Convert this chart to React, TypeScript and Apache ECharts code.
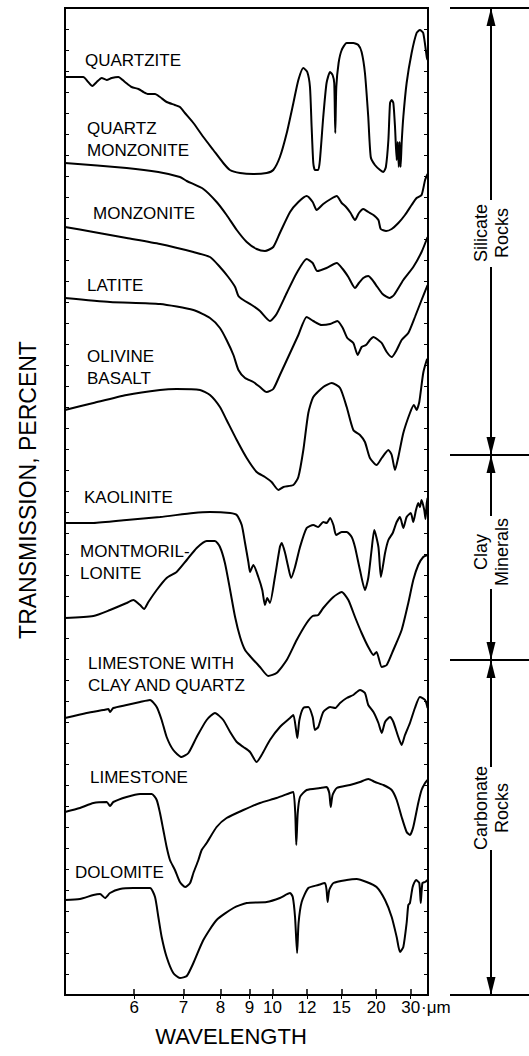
import React, { useEffect, useRef } from "react";
import * as echarts from "echarts";

// x values: wavenumber (cm^-1); y values: offset transmission (arbitrary stacked units)
const tickWavelengths = [6, 7, 8, 9, 10, 12, 15, 20, 30];

const quartzite: [number, number][] = [
  [2000,918],[1912,918],[1888,913],[1868,909],[1847,913],[1823,917],[1799,915],[1775,917],[1743,918],[1711,913],[1679,908],[1646,906],[1622,903],[1598,901],[1566,901],[1542,898],[1510,893],[1470,890],[1446,888],[1422,882],[1381,872],[1333,858],[1285,845],[1237,832],[1205,825],[1156,822],[1092,821],[1028,822],[996,825],[964,838],[931,862],[899,892],[875,915],[851,927],[832,923],[819,908],[811,868],[803,832],[795,825],[779,825],[771,835],[755,878],[739,912],[722,923],[710,920],[702,912],[697,862],[692,908],[681,932],[666,945],[642,952],[610,952],[586,950],[570,943],[554,922],[538,878],[526,838],[506,830],[481,825],[465,823],[453,828],[441,855],[433,892],[425,895],[417,892],[409,868],[401,835],[396,853],[391,828],[387,853],[382,828],[377,852],[369,878],[353,912],[329,942],[305,962],[289,965],[273,962],[256,938],[252,935]
];
const quartzMonzonite: [number, number][] = [
  [2000,832],[1703,827],[1550,823],[1446,818],[1413,814],[1333,806],[1269,793],[1221,780],[1172,765],[1124,753],[1076,746],[1036,744],[996,748],[964,762],[915,783],[875,793],[835,799],[806,793],[787,785],[755,791],[719,796],[690,799],[666,792],[645,788],[623,782],[602,775],[583,782],[562,786],[538,783],[513,780],[489,775],[478,766],[452,764],[425,766],[393,772],[361,780],[329,790],[305,797],[281,800],[264,815],[252,821]
];
const monzonite: [number, number][] = [
  [2000,768],[1863,763],[1703,757],[1542,751],[1381,743],[1301,738],[1253,728],[1213,718],[1180,708],[1164,699],[1140,695],[1100,690],[1060,684],[1012,674],[980,681],[931,702],[883,722],[835,736],[806,732],[784,724],[739,727],[690,732],[661,726],[634,718],[602,707],[583,712],[562,717],[538,719],[518,715],[494,708],[469,701],[436,697],[414,700],[369,715],[321,728],[281,743],[252,758]
];
const latite: [number, number][] = [
  [2000,697],[1783,693],[1542,691],[1381,685],[1301,677],[1253,667],[1221,655],[1188,640],[1164,625],[1132,617],[1092,613],[1060,608],[1028,603],[996,606],[964,620],[915,642],[875,660],[835,678],[803,674],[763,670],[722,671],[687,674],[661,667],[639,657],[610,652],[589,640],[570,648],[549,650],[530,655],[513,658],[490,655],[473,652],[449,643],[425,638],[401,645],[377,655],[345,662],[313,678],[281,695],[252,710]
];
const olivineBasalt: [number, number][] = [
  [2000,585],[1863,592],[1703,600],[1542,605],[1462,606],[1349,605],[1301,600],[1253,588],[1221,575],[1172,555],[1124,537],[1076,523],[1036,518],[1004,513],[971,505],[947,508],[899,510],[875,518],[851,545],[827,582],[803,598],[755,608],[714,612],[674,607],[642,588],[610,565],[578,560],[554,553],[530,537],[498,530],[473,537],[441,545],[425,540],[409,525],[393,538],[369,562],[337,582],[318,590],[305,585],[292,593],[273,622],[256,635],[252,636]
];
const kaolinite: [number, number][] = [
  [2000,472],[1863,472],[1703,475],[1542,478],[1381,482],[1301,483],[1204,482],[1172,480],[1148,470],[1132,452],[1116,433],[1108,423],[1092,430],[1068,418],[1049,405],[1036,390],[1025,397],[1012,392],[988,418],[964,448],[955,452],[939,442],[926,430],[910,417],[891,428],[867,448],[835,467],[803,470],[779,468],[755,473],[739,472],[722,477],[706,470],[693,460],[666,463],[642,463],[618,458],[602,448],[578,425],[554,405],[538,417],[522,445],[509,465],[489,448],[477,418],[457,442],[441,455],[420,462],[401,473],[385,478],[369,467],[353,478],[333,482],[321,473],[308,485],[297,492],[289,488],[281,495],[268,485],[262,476],[256,492],[252,497]
];
const montmorillonite: [number, number][] = [
  [2000,377],[1863,379],[1783,385],[1703,392],[1671,395],[1638,390],[1619,386],[1598,393],[1558,405],[1510,417],[1462,423],[1413,435],[1365,447],[1317,454],[1277,454],[1253,448],[1229,432],[1204,405],[1180,378],[1156,358],[1132,345],[1100,337],[1060,328],[1020,319],[980,322],[931,335],[883,355],[835,372],[806,379],[779,380],[755,387],[706,398],[666,403],[634,395],[602,378],[570,362],[538,348],[513,340],[498,343],[473,328],[449,330],[417,345],[377,365],[345,392],[321,415],[297,430],[273,438],[252,440]
];
const limestoneClayQuartz: [number, number][] = [
  [2000,277],[1896,282],[1815,285],[1791,286],[1783,283],[1767,287],[1703,290],[1638,293],[1590,295],[1558,288],[1534,275],[1510,258],[1478,245],[1438,238],[1405,242],[1365,258],[1317,275],[1277,282],[1237,275],[1204,263],[1172,253],[1140,248],[1108,243],[1076,233],[1052,240],[1012,255],[964,268],[915,277],[899,280],[886,265],[880,257],[870,275],[851,287],[827,288],[806,278],[795,265],[779,268],[755,283],[722,288],[698,287],[674,292],[642,297],[610,300],[578,305],[554,302],[538,290],[513,283],[489,272],[473,262],[457,273],[433,278],[417,273],[393,258],[377,250],[361,260],[337,272],[313,287],[289,298],[264,295],[252,287]
];
const limestone: [number, number][] = [
  [2000,183],[1928,187],[1863,192],[1799,193],[1783,189],[1767,193],[1703,198],[1638,201],[1582,201],[1558,195],[1542,182],[1526,165],[1510,148],[1494,135],[1470,125],[1446,113],[1421,108],[1397,112],[1381,122],[1357,135],[1341,145],[1317,152],[1269,168],[1221,177],[1140,185],[1060,192],[980,197],[915,202],[899,203],[890,182],[885,150],[878,182],[867,198],[835,205],[771,207],[739,208],[726,202],[719,188],[710,200],[690,207],[626,210],[578,213],[538,216],[505,213],[465,210],[425,205],[401,195],[377,178],[353,163],[337,160],[321,168],[297,192],[281,205],[264,212],[252,215]
];
const dolomite: [number, number][] = [
  [2000,95],[1928,96],[1863,100],[1831,101],[1807,97],[1783,102],[1735,106],[1671,107],[1590,107],[1566,98],[1550,78],[1534,58],[1510,38],[1478,22],[1446,17],[1413,19],[1381,32],[1333,55],[1269,75],[1188,87],[1124,92],[1028,93],[964,97],[915,102],[902,98],[891,78],[881,42],[874,72],[859,93],[827,107],[779,110],[747,112],[739,105],[734,93],[726,105],[706,112],[642,115],[594,116],[546,113],[498,108],[457,95],[425,78],[401,58],[385,43],[369,48],[353,72],[345,90],[337,92],[324,108],[308,115],[292,112],[285,92],[277,112],[264,113],[252,115]
];

const seriesNames = [
  "QUARTZITE", "QUARTZ MONZONITE", "MONZONITE", "LATITE", "OLIVINE BASALT",
  "KAOLINITE", "MONTMORILLONITE", "LIMESTONE WITH CLAY AND QUARTZ", "LIMESTONE", "DOLOMITE",
];
const seriesData = [
  quartzite, quartzMonzonite, monzonite, latite, olivineBasalt,
  kaolinite, montmorillonite, limestoneClayQuartz, limestone, dolomite,
];

const FONT = '"Liberation Sans", Arial, Helvetica, sans-serif';

export default function App() {
  const ref = useRef<HTMLDivElement>(null);
  useEffect(() => {
    document.body.style.margin = "0";
    const chart = echarts.init(ref.current!, undefined, { renderer: "svg" });
    const tickValues = tickWavelengths.map((l) => 10000 / l);

    const labels: [string, number, number][] = [
      ["QUARTZITE", 85, 60],
      ["QUARTZ\nMONZONITE", 87, 139],
      ["MONZONITE", 93, 213],
      ["LATITE", 87, 285],
      ["OLIVINE\nBASALT", 87, 367],
      ["KAOLINITE", 84, 497],
      ["MONTMORIL-\nLONITE", 80, 562],
      ["LIMESTONE WITH\nCLAY AND QUARTZ", 88, 674],
      ["LIMESTONE", 90, 777],
      ["DOLOMITE", 75, 872],
    ];

    const graphics: any[] = labels.map(([t, x, y]) => ({
      type: "text",
      x,
      y,
      style: { text: t, fill: "#000", font: `17px ${FONT}`, verticalAlign: "middle", lineHeight: 22 },
    }));

    graphics.push({
      type: "text", x: 28, y: 490, rotation: Math.PI / 2,
      style: { text: "TRANSMISSION, PERCENT", fill: "#000", font: `23px ${FONT}`, align: "center", verticalAlign: "middle" },
    });
    graphics.push({
      type: "text", x: 231, y: 1036,
      style: { text: "WAVELENGTH", fill: "#000", font: `22px ${FONT}`, align: "center", verticalAlign: "middle" },
    });
    graphics.push({
      type: "text", x: 421, y: 1007,
      style: { text: "·μm", fill: "#000", font: `17px ${FONT}`, align: "left", verticalAlign: "middle" },
    });

    const ax = 491;
    const groups = [
      { text: "Silicate\nRocks", top: 8, bottom: 455, gapTop: 200, gapBottom: 267, cy: 233 },
      { text: "Clay\nMinerals", top: 455, bottom: 660, gapTop: 516, gapBottom: 589, cy: 552 },
      { text: "Carbonate\nRocks", top: 660, bottom: 995, gapTop: 767, gapBottom: 850, cy: 808 },
    ];
    [8, 455, 660, 995].forEach((y) => {
      graphics.push({ type: "line", shape: { x1: 450, y1: y, x2: 529, y2: y }, style: { stroke: "#000", lineWidth: 2 } });
    });
    groups.forEach((g) => {
      graphics.push({ type: "line", shape: { x1: ax, y1: g.top, x2: ax, y2: g.gapTop }, style: { stroke: "#000", lineWidth: 2 } });
      graphics.push({ type: "line", shape: { x1: ax, y1: g.gapBottom, x2: ax, y2: g.bottom }, style: { stroke: "#000", lineWidth: 2 } });
      graphics.push({ type: "polygon", shape: { points: [[ax, g.top], [ax - 4.5, g.top + 18], [ax + 4.5, g.top + 18]] }, style: { fill: "#000" } });
      graphics.push({ type: "polygon", shape: { points: [[ax, g.bottom], [ax - 4.5, g.bottom - 18], [ax + 4.5, g.bottom - 18]] }, style: { fill: "#000" } });
      graphics.push({
        type: "text", x: ax, y: g.cy, rotation: Math.PI / 2,
        style: { text: g.text, fill: "#000", font: `18px ${FONT}`, align: "center", verticalAlign: "middle", lineHeight: 21 },
      });
    });

    const xBase = {
      type: "value",
      min: 250,
      max: 2000,
      inverse: true,
      axisLine: { show: false },
      splitLine: { show: false },
    };
    const yBase = {
      type: "value",
      min: 0,
      max: 987,
      interval: 21,
      axisLine: { show: false },
      splitLine: { show: false },
      axisLabel: { show: false },
      axisTick: { show: true, inside: true, length: 4, lineStyle: { color: "#000", width: 1 } },
    };

    chart.setOption({
      animation: false,
      backgroundColor: "#fff",
      grid: { left: 65, right: 101, top: 8, bottom: 61, show: true, borderColor: "#000", borderWidth: 2 },
      xAxis: [
        {
          ...xBase,
          position: "bottom",
          axisTick: { show: true, inside: true, length: 6, customValues: tickValues, lineStyle: { color: "#000", width: 1.5 } },
          axisLabel: {
            show: true,
            customValues: tickValues,
            formatter: (v: number) => String(Math.round(10000 / v)),
            fontSize: 17,
            fontFamily: FONT,
            color: "#000",
            margin: 4,
            hideOverlap: false,
          },
        },
        {
          ...xBase,
          position: "top",
          axisTick: { show: true, inside: true, length: 4, customValues: tickValues, lineStyle: { color: "#000", width: 1 } },
          axisLabel: { show: false },
        },
      ],
      yAxis: [
        { ...yBase, position: "left" },
        { ...yBase, position: "right" },
      ],
      series: seriesData.map((d, i) => ({
        name: seriesNames[i],
        type: "line",
        data: d,
        showSymbol: false,
        symbol: "none",
        smooth: 0.2,
        lineStyle: { color: "#000", width: 2 },
        xAxisIndex: 0,
        yAxisIndex: 0,
      })),
      graphic: graphics,
    });
    return () => chart.dispose();
  }, []);
  return <div ref={ref} style={{ position: "absolute", left: 0, top: 0, width: 529, height: 1056 }} />;
}
